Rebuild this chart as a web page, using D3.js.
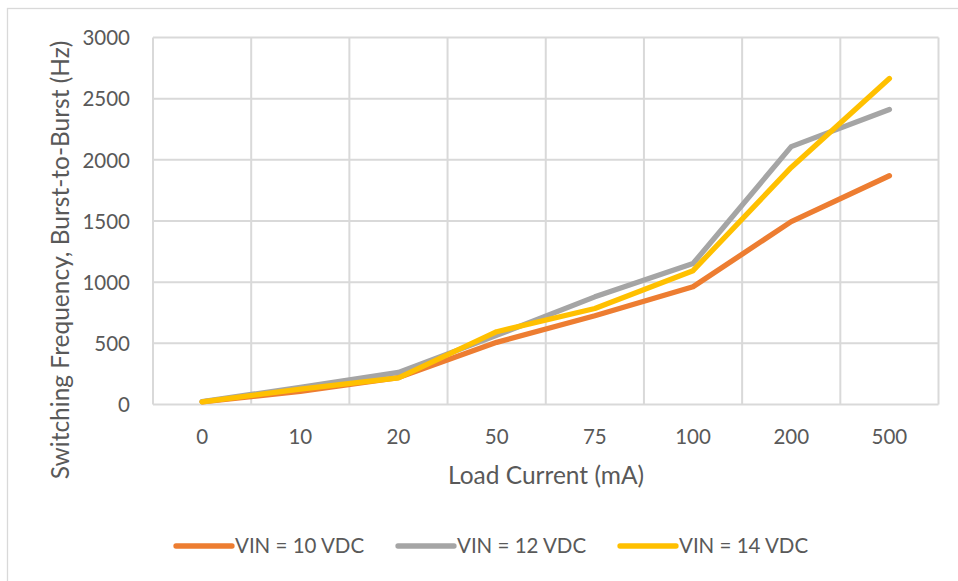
<!DOCTYPE html>
<html>
<head>
<meta charset="utf-8">
<script src="https://cdn.jsdelivr.net/npm/d3@7/dist/d3.min.js"></script>
<style>
  html, body { margin: 0; padding: 0; background: #fff; }
  svg { display: block; font-family: Lato, "Open Sans", sans-serif; }
</style>
</head>
<body>
<svg id="chart" width="958" height="581"></svg>
<script>
// Load current categories (mA) along the x axis
const loadCurrents = ["0", "10", "20", "50", "75", "100", "200", "500"];

// Burst-to-burst switching frequency (Hz) per input voltage
const vin10 = [22, 108, 220, 508, 725, 962, 1495, 1870];
const vin12 = [24, 140, 262, 565, 880, 1152, 2108, 2412];
const vin14 = [22, 125, 218, 595, 785, 1094, 1938, 2665];

const seriesNames = ["VIN = 10 VDC", "VIN = 12 VDC", "VIN = 14 VDC"];
const seriesColors = ["#ED7D31", "#A5A5A5", "#FFC000"];
const yTicks = [0, 500, 1000, 1500, 2000, 2500, 3000];

const xTitle = "Load Current (mA)";
const yTitle = "Switching Frequency, Burst-to-Burst (Hz)";

const series = [vin10, vin12, vin14].map((values, i) => ({
  name: seriesNames[i],
  color: seriesColors[i],
  values
}));

const svg = d3.select("#chart");
const plot = { left: 153, right: 938.5, top: 37.5, bottom: 404.5 };
const textColor = "#595959";
const gridColor = "#D9D9D9";
const tickSize = 20.5;
const titleSize = 24.5;

// outer chart frame
svg.append("rect")
  .attr("x", 7.5).attr("y", 8.5)
  .attr("width", 958).attr("height", 600)
  .attr("fill", "none").attr("stroke", gridColor).attr("stroke-width", 1.3);

const x = d3.scaleBand().domain(loadCurrents).range([plot.left, plot.right]);
const y = d3.scaleLinear().domain([0, 3000]).range([plot.bottom, plot.top]);

// horizontal gridlines
svg.append("g")
  .selectAll("line")
  .data(yTicks)
  .join("line")
  .attr("x1", plot.left).attr("x2", plot.right)
  .attr("y1", d => y(d)).attr("y2", d => y(d))
  .attr("stroke", gridColor).attr("stroke-width", 2);

// vertical gridlines at category boundaries
const bounds = loadCurrents.map(c => x(c)).concat([plot.right]);
svg.append("g")
  .selectAll("line")
  .data(bounds)
  .join("line")
  .attr("x1", d => d).attr("x2", d => d)
  .attr("y1", plot.top).attr("y2", plot.bottom)
  .attr("stroke", gridColor).attr("stroke-width", 2);

// y axis tick labels
const yAxis = d3.axisLeft(y).tickValues(yTicks).tickFormat(d3.format("d"))
  .tickSize(0).tickPadding(0);
const gy = svg.append("g").attr("transform", `translate(${plot.left - 23},0)`).call(yAxis);
gy.select(".domain").remove();
gy.selectAll("text")
  .attr("fill", textColor).attr("font-size", tickSize)
  .attr("font-family", "Lato, 'Open Sans', sans-serif")
  .attr("dy", "0.35em");

// x axis tick labels
const xAxis = d3.axisBottom(x).tickSize(0).tickPadding(0);
const gx = svg.append("g").attr("transform", `translate(0,${plot.bottom + 32})`).call(xAxis);
gx.select(".domain").remove();
gx.selectAll("text")
  .attr("fill", textColor).attr("font-size", tickSize)
  .attr("font-family", "Lato, 'Open Sans', sans-serif")
  .attr("dy", "0.35em");

// axis titles
svg.append("text")
  .attr("x", 546).attr("y", 475)
  .attr("text-anchor", "middle").attr("dy", "0.35em")
  .attr("fill", textColor).attr("font-size", titleSize)
  .text(xTitle);

svg.append("text")
  .attr("transform", "translate(60,260) rotate(-90)")
  .attr("text-anchor", "middle").attr("dy", "0.35em")
  .attr("fill", textColor).attr("font-size", titleSize)
  .text(yTitle);

// series lines
const line = d3.line()
  .x((d, i) => x(loadCurrents[i]) + x.bandwidth() / 2)
  .y(d => y(d));

svg.append("g")
  .selectAll("path")
  .data(series)
  .join("path")
  .attr("d", d => line(d.values))
  .attr("fill", "none")
  .attr("stroke", d => d.color)
  .attr("stroke-width", 5.3)
  .attr("stroke-linecap", "round")
  .attr("stroke-linejoin", "round");

// legend
const legendX = [176, 398, 620];
const legend = svg.append("g")
  .selectAll("g")
  .data(series)
  .join("g")
  .attr("transform", (d, i) => `translate(${legendX[i]},546)`);
legend.append("line")
  .attr("x1", 0).attr("x2", 56).attr("y1", 0).attr("y2", 0)
  .attr("stroke", d => d.color).attr("stroke-width", 5.3)
  .attr("stroke-linecap", "round");
legend.append("text")
  .attr("x", 59).attr("dy", "0.35em")
  .attr("fill", textColor).attr("font-size", tickSize)
  .text(d => d.name);
</script>
</body>
</html>
